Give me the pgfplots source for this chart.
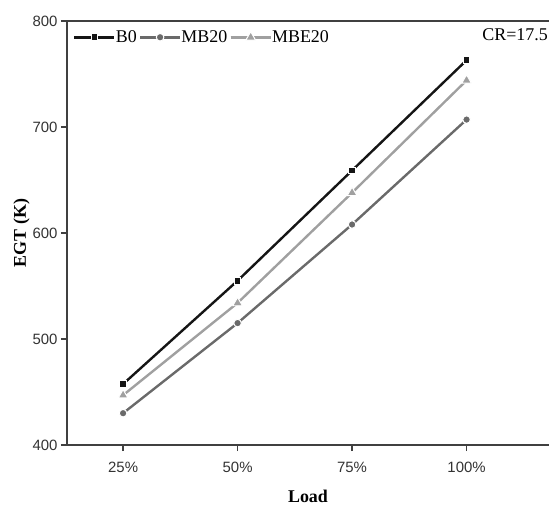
\documentclass[border=0pt]{standalone}
\usepackage{fontspec}
\setmainfont{Liberation Serif}
\newfontfamily\sansf{Liberation Sans}
\usepackage{pgfplots}
\pgfplotsset{compat=1.18}

\definecolor{cB}{HTML}{151515}
\definecolor{cM}{HTML}{6A6A6A}
\definecolor{cE}{HTML}{A0A0A0}
\definecolor{axc}{HTML}{404040}

\begin{document}
\begin{tikzpicture}
\begin{axis}[
    scale only axis,
    width=482bp, height=424bp,
    xmin=-0.49, xmax=3.72,
    ymin=400, ymax=800,
    xtick={0,1,2,3},
    xticklabels={25\%,50\%,75\%,100\%},
    ytick={400,500,600,700,800},
    axis line style={draw=none},
    tick style={axc, line width=1.4pt},
    major tick length=6bp,
    tick align=outside,
    xtick pos=bottom, ytick pos=left,
    /pgf/number format/assume math mode=true,
    ticklabel style={font=\sansf\fontsize{15}{15}\selectfont, text=black!80},
    xticklabel style={yshift=-8bp},
    xlabel={\textbf{Load}},
    ylabel={\textbf{EGT (K)}},
    label style={font=\fontsize{18}{18}\selectfont},
    xlabel style={yshift=-10bp},
    ylabel style={yshift=-4bp},
    legend columns=-1,
    legend style={draw=none, fill=none, at={(0.01,0.985)}, anchor=north west,
        font=\fontsize{18}{18}\selectfont, inner sep=1pt,
        /tikz/every odd column/.append style={column sep=-2bp},
        /tikz/every even column/.append style={column sep=0pt}},
    legend image code/.code={%
        \draw[line width=2.8pt] (0bp,0bp) -- (40bp,0bp);
        \draw[mark repeat=2,mark phase=2] plot coordinates {(0bp,0bp) (20bp,0bp) (40bp,0bp)};},
    legend cell align=left,
    clip=false,
]
\addplot[cB, line width=2.4pt, mark=square*, mark size=3.4pt,
    mark options={fill=cB, draw=white, line width=1pt}]
    coordinates {(0,457.5) (1,555) (2,659) (3,763)};
\addlegendentry{B0}
\addplot[cM, line width=2.4pt, mark=*, mark size=3.8pt,
    mark options={fill=cM, draw=white, line width=1pt}]
    coordinates {(0,430) (1,515) (2,608) (3,707)};
\addlegendentry{MB20}
\addplot[cE, line width=2.4pt, mark=triangle*, mark size=5.6pt,
    mark options={fill=cE, draw=white, line width=1pt}]
    coordinates {(0,447) (1,534) (2,638) (3,744)};
\addlegendentry{MBE20}
\draw[axc, line width=1.4pt] (rel axis cs:0,0) -- (rel axis cs:0,1) -- (rel axis cs:1,1);
\draw[axc, line width=1.4pt] (rel axis cs:0,0) -- (rel axis cs:1,0);
\node[anchor=north east, font=\fontsize{18}{18}\selectfont, inner sep=0pt]
    at ([shift={(-1bp,-7bp)}]rel axis cs:1,1) {CR=17.5};
\coordinate (O) at (rel axis cs:0,0);
\end{axis}
\pgfresetboundingbox
\path ([shift={(-67bp,-62bp)}]O) rectangle ++(549bp,507bp);
\end{tikzpicture}
\end{document}
